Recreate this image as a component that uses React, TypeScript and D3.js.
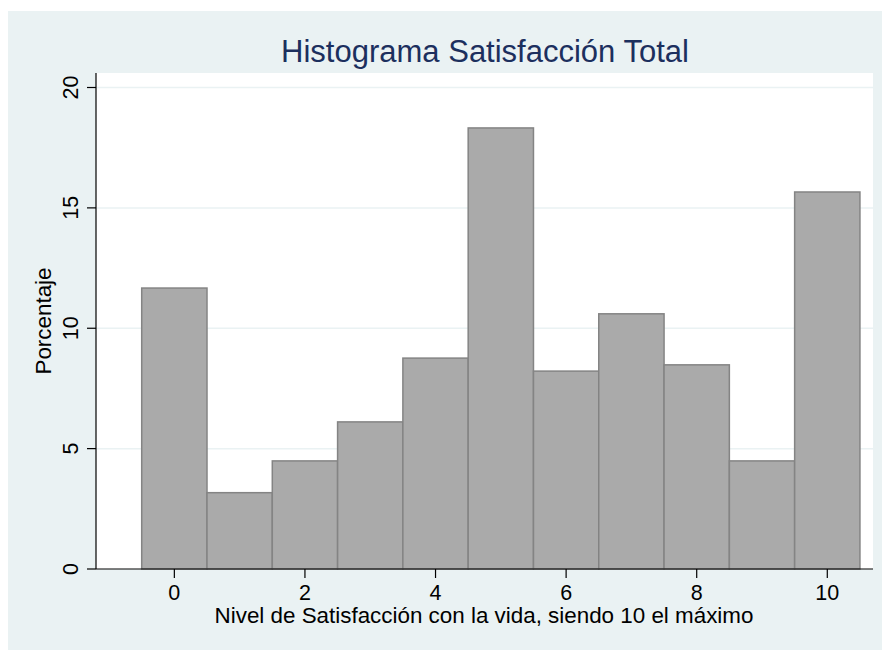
import React from "react";
import * as d3 from "d3";

const categories = [0, 1, 2, 3, 4, 5, 6, 7, 8, 9, 10];
const percents = [11.67, 3.17, 4.49, 6.11, 8.76, 18.32, 8.22, 10.6, 8.48, 4.49, 15.66];
const xTicks = [0, 2, 4, 6, 8, 10];
const yTicks = [0, 5, 10, 15, 20];

const W = 885;
const H = 650;
const left = 96;
const right = 873;
const top = 73;
const bottom = 569;
const font = "'Liberation Sans', Arial, Helvetica, sans-serif";

export default function App() {
  const x = d3.scaleLinear().domain([-1.2, 10.7]).range([left, right]);
  const y = d3.scaleLinear().domain([0, 20]).range([bottom, 87.5]);

  return (
    <svg
      width={W}
      height={H}
      style={{ position: "absolute", left: 0, top: 0 }}
      fontFamily={font}
    >
      <rect x={8} y={11} width={874} height={639} fill="#eaf2f3" />
      <rect x={left} y={top} width={right - left} height={bottom - top} fill="#ffffff" />

      {/* grid */}
      {yTicks.slice(1).map((t) => (
        <line key={t} x1={left} x2={right} y1={y(t)} y2={y(t)} stroke="#eaf2f3" strokeWidth={1.5} />
      ))}

      {/* bars */}
      {categories.map((c, i) => (
        <rect
          key={c}
          x={x(c - 0.5)}
          y={y(percents[i])}
          width={x(c + 0.5) - x(c - 0.5)}
          height={bottom - y(percents[i])}
          fill="#aaaaaa"
          stroke="#848484"
          strokeWidth={1.5}
        />
      ))}

      {/* axes */}
      <line x1={left} x2={left} y1={top} y2={bottom} stroke="#000" strokeWidth={1.2} />
      <line x1={left} x2={right} y1={bottom} y2={bottom} stroke="#000" strokeWidth={1.2} />

      {yTicks.map((t) => (
        <g key={t}>
          <line x1={left - 9} x2={left} y1={y(t)} y2={y(t)} stroke="#000" strokeWidth={1.2} />
          <text
            transform={`translate(78,${y(t)}) rotate(-90)`}
            textAnchor="middle"
            fontSize={21.5}
            fill="#000"
          >
            {t}
          </text>
        </g>
      ))}

      {xTicks.map((t) => (
        <g key={t}>
          <line x1={x(t)} x2={x(t)} y1={bottom} y2={bottom + 9} stroke="#000" strokeWidth={1.2} />
          <text x={x(t)} y={600} textAnchor="middle" fontSize={21.5} fill="#000">
            {t}
          </text>
        </g>
      ))}

      <text x={484} y={623} textAnchor="middle" fontSize={22.4} fill="#000">
        Nivel de Satisfacción con la vida, siendo 10 el máximo
      </text>
      <text
        transform={`translate(51,${(top + bottom) / 2}) rotate(-90)`}
        textAnchor="middle"
        fontSize={22.4}
        fill="#000"
      >
        Porcentaje
      </text>
      <text x={485} y={62} textAnchor="middle" fontSize={31} fill="#1c2f5e">
        Histograma Satisfacción Total
      </text>
    </svg>
  );
}
